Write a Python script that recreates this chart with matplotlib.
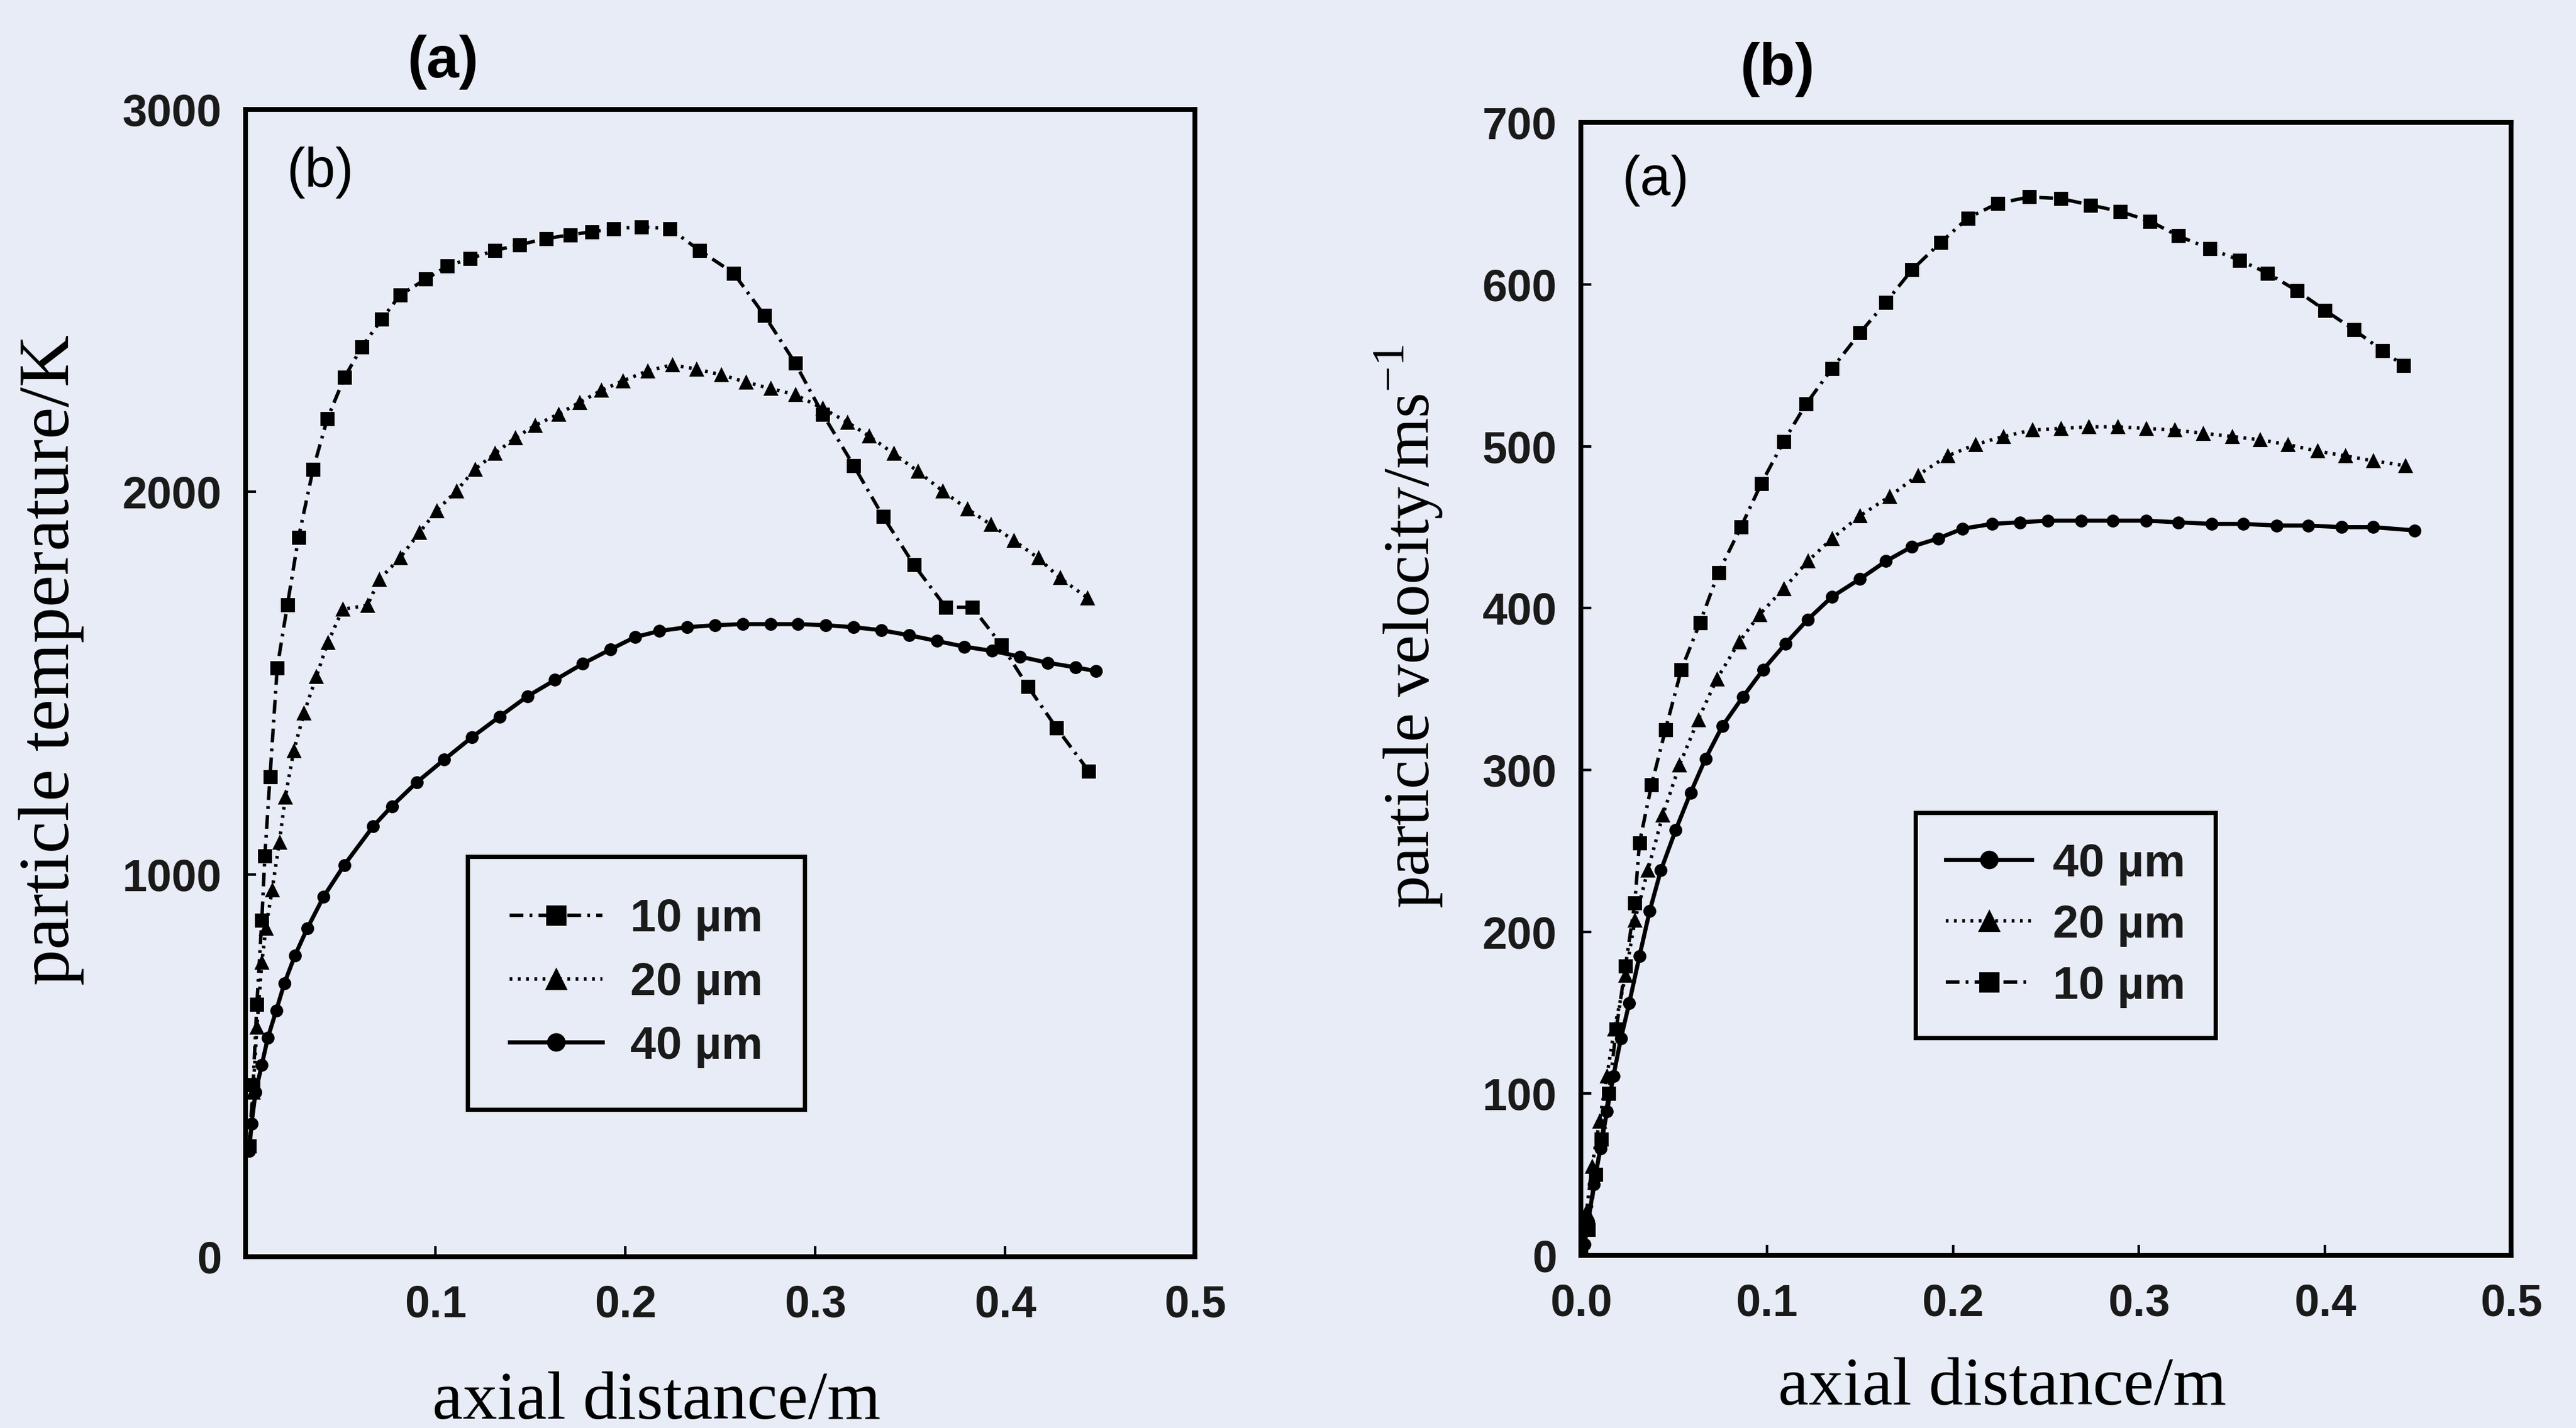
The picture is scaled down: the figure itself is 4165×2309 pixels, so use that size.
import matplotlib
matplotlib.use('Agg')
import matplotlib.pyplot as plt

BG = '#e8ecf6'
SANS = 'Liberation Sans'
SERIF = 'Liberation Serif'

# ---- panel (a): particle temperature vs axial distance ----
temp_10_x = [0.002, 0.004, 0.006, 0.0086, 0.0102, 0.0129, 0.0167, 0.0221, 0.0279, 0.0356,
             0.0431, 0.0521, 0.0612, 0.0717, 0.0813, 0.0949, 0.1063, 0.1183, 0.1313, 0.1442,
             0.1582, 0.171, 0.1824, 0.1938, 0.2084, 0.2236, 0.2391, 0.257, 0.2733, 0.2894,
             0.304, 0.3202, 0.3358, 0.352, 0.3688, 0.3827, 0.398, 0.412, 0.427, 0.444]
temp_10_y = [290, 450, 660, 880, 1048, 1255, 1540, 1705, 1880, 2059,
             2191, 2299, 2378, 2451, 2514, 2556, 2590, 2610, 2631, 2646,
             2662, 2672, 2680, 2688, 2693, 2688, 2631, 2572, 2461, 2337,
             2203, 2069, 1935, 1809, 1698, 1698, 1600, 1491, 1383, 1270]

temp_20_x = [0.002, 0.004, 0.006, 0.0086, 0.0107, 0.014, 0.0178, 0.021, 0.0254, 0.0308,
             0.0373, 0.0433, 0.0512, 0.0642, 0.0703, 0.0813, 0.0917, 0.1007, 0.111, 0.1208,
             0.1313, 0.142, 0.1526, 0.1647, 0.176, 0.1873, 0.1987, 0.2116, 0.2246, 0.2375,
             0.2505, 0.2635, 0.2765, 0.2894, 0.304, 0.317, 0.3283, 0.3413, 0.3542, 0.3671,
             0.3802, 0.3925, 0.4045, 0.4174, 0.4288, 0.4433]
temp_20_y = [290, 430, 600, 769, 858, 959, 1083, 1202, 1323, 1421,
             1517, 1605, 1693, 1703, 1770, 1827, 1894, 1951, 2002, 2059,
             2100, 2141, 2174, 2203, 2234, 2265, 2290, 2316, 2332, 2321,
             2306, 2287, 2270, 2254, 2218, 2182, 2146, 2100, 2053, 2002,
             1955, 1914, 1873, 1827, 1775, 1723]

temp_40_x = [0.002, 0.0032, 0.0053, 0.0086, 0.0118, 0.0162, 0.0205, 0.026, 0.0325, 0.0411,
             0.052, 0.0672, 0.0771, 0.0901, 0.1047, 0.1192, 0.1338, 0.1484, 0.163, 0.1775,
             0.1922, 0.2051, 0.218, 0.2326, 0.2472, 0.2618, 0.2764, 0.291, 0.3056, 0.3202,
             0.3348, 0.3494, 0.364, 0.3786, 0.3932, 0.4078, 0.4224, 0.437, 0.448]
temp_40_y = [277, 348, 430, 502, 573, 644, 715, 787, 858, 941,
             1024, 1125, 1178, 1240, 1300, 1358, 1412, 1465, 1508, 1550,
             1588, 1620, 1636, 1646, 1651, 1654, 1654, 1654, 1651, 1646,
             1638, 1625, 1610, 1595, 1584, 1569, 1553, 1541, 1531]

# ---- panel (b): particle velocity vs axial distance ----
vel_10_x = [0.0, 0.004, 0.008, 0.011, 0.015, 0.019, 0.024, 0.029, 0.0315, 0.038,
            0.0455, 0.054, 0.064, 0.074, 0.086, 0.097, 0.109, 0.121, 0.135, 0.15,
            0.164, 0.178, 0.1935, 0.208, 0.224, 0.241, 0.258, 0.274, 0.29, 0.306,
            0.321, 0.338, 0.354, 0.369, 0.385, 0.40, 0.4155, 0.431, 0.442]
vel_10_y = [0, 16, 50, 72, 100, 140, 179, 218, 255, 291,
            325, 362, 391, 422, 450, 477, 503, 526, 548, 570,
            589, 609, 626, 641, 650, 654, 653, 649, 645, 639,
            630, 622, 615, 607, 596, 584, 572, 559, 550]

vel_20_x = [0.0, 0.003, 0.006, 0.01, 0.014, 0.018, 0.024, 0.029, 0.036, 0.044,
            0.053, 0.063, 0.073, 0.085, 0.096, 0.109, 0.122, 0.135, 0.15, 0.166,
            0.181, 0.197, 0.212, 0.227, 0.2426, 0.258, 0.273, 0.2885, 0.304, 0.319,
            0.3345, 0.35, 0.365, 0.38, 0.396, 0.411, 0.426, 0.443]
vel_20_y = [0, 27, 55, 83, 111, 140, 173, 207, 238, 272,
            303, 331, 356, 379, 396, 412, 429, 443, 457, 469,
            482, 494, 501, 506, 510, 511, 512, 512, 511, 510,
            508, 506, 504, 501, 497, 494, 491, 488]

vel_40_x = [0.0, 0.002, 0.004, 0.007, 0.0105, 0.014, 0.0175, 0.0215, 0.026, 0.0315,
            0.037, 0.043, 0.051, 0.059, 0.067, 0.076, 0.087, 0.098, 0.11, 0.122,
            0.135, 0.15, 0.164, 0.178, 0.192, 0.205, 0.221, 0.236, 0.251, 0.269,
            0.286, 0.304, 0.321, 0.339, 0.356, 0.374, 0.391, 0.409, 0.426, 0.448]
vel_40_y = [0, 7, 21, 44, 66, 89, 111, 134, 156, 185,
            213, 238, 263, 286, 307, 327, 345, 362, 378, 393,
            407, 418, 429, 438, 443, 449, 452, 453, 454, 454,
            454, 454, 453, 452, 452, 451, 451, 450, 450, 448]

size_labels = ['10 \u00b5m', '20 \u00b5m', '40 \u00b5m']

style_10 = dict(color='black', ls=(0, (4, 1.8, 0.8, 1.8)), lw=2.0, marker='s', ms=7)
style_20 = dict(color='black', ls=(0, (0.8, 1.6)), lw=2.0, marker='^', ms=7.5)
style_40 = dict(color='black', ls='-', lw=2.4, marker='o', ms=6.5)

fig = plt.figure(figsize=(4165 / 200, 2309 / 200), dpi=200, facecolor=BG)
ax1 = fig.add_axes([0.0953, 0.120, 0.3686, 0.8034], facecolor=BG)
ax2 = fig.add_axes([0.6137, 0.1208, 0.3611, 0.7934], facecolor=BG)

l10, = ax1.plot(temp_10_x, temp_10_y, label=size_labels[0], **style_10)
l20, = ax1.plot(temp_20_x, temp_20_y, label=size_labels[1], **style_20)
l40, = ax1.plot(temp_40_x, temp_40_y, label=size_labels[2], **style_40)

r40, = ax2.plot(vel_40_x, vel_40_y, label=size_labels[2], **style_40)
r20, = ax2.plot(vel_20_x, vel_20_y, label=size_labels[1], **style_20)
r10, = ax2.plot(vel_10_x, vel_10_y, label=size_labels[0], **style_10)

ax1.set_xlim(0, 0.5)
ax1.set_ylim(0, 3000)
ax1.set_xticks([0.1, 0.2, 0.3, 0.4, 0.5])
ax1.set_xticklabels(['0.1', '0.2', '0.3', '0.4', '0.5'])
ax1.set_yticks([0, 1000, 2000, 3000])

ax2.set_xlim(0, 0.5)
ax2.set_ylim(0, 700)
ax2.set_xticks([0.0, 0.1, 0.2, 0.3, 0.4, 0.5])
ax2.set_xticklabels(['0.0', '0.1', '0.2', '0.3', '0.4', '0.5'])
ax2.set_yticks(range(0, 701, 100))

for ax in (ax1, ax2):
    for sp in ax.spines.values():
        sp.set_linewidth(2.8)
    ax.tick_params(direction='in', length=6, width=1.5, labelsize=26)
    ax.tick_params(axis='x', pad=16)
    ax.tick_params(axis='y', pad=14)
    for lab in ax.get_xticklabels() + ax.get_yticklabels():
        lab.set_fontfamily(SANS)
        lab.set_fontweight('bold')
        lab.set_color('#1a1a1a')

ax1.set_xlabel('axial distance/m', fontsize=40, family=SERIF)
ax1.xaxis.set_label_coords(0.433, -0.100)
ax1.set_ylabel('particle temperature/K', fontsize=42, family=SERIF)
ax1.yaxis.set_label_coords(-0.17, 0.52)

ax2.set_xlabel('axial distance/m', fontsize=40, family=SERIF)
ax2.xaxis.set_label_coords(0.453, -0.0895)
ax2.set_ylabel('particle velocity/ms$^{\\mathregular{-1}}$', fontsize=38, family=SERIF)
ax2.yaxis.set_label_coords(-0.146, 0.555)

# panel letters
ax1.text(0.208, 1.041, '(a)', transform=ax1.transAxes, ha='center', va='center',
         fontsize=34, fontweight='bold', family=SANS)
ax1.text(0.079, 0.945, '(b)', transform=ax1.transAxes, ha='center', va='center',
         fontsize=32, family=SANS)
ax2.text(0.211, 1.047, '(b)', transform=ax2.transAxes, ha='center', va='center',
         fontsize=34, fontweight='bold', family=SANS)
ax2.text(0.080, 0.949, '(a)', transform=ax2.transAxes, ha='center', va='center',
         fontsize=32, family=SANS)

leg_kw = dict(loc='upper left', borderaxespad=0, frameon=True, fancybox=False,
              edgecolor='black', facecolor=BG, framealpha=1,
              prop={'family': SANS, 'size': 27, 'weight': 'bold'},
              numpoints=1, markerscale=1.5)

leg1 = ax1.legend(handles=[l10, l20, l40], bbox_to_anchor=(0.234, 0.349),
                  handlelength=2.0, handletextpad=0.6, borderpad=0.9, labelspacing=0.45,
                  **leg_kw)
leg1.get_frame().set_linewidth(2.5)

leg2 = ax2.legend(handles=[r40, r20, r10], bbox_to_anchor=(0.360, 0.391),
                  handlelength=1.85, handletextpad=0.45, borderpad=0.65, labelspacing=0.4,
                  **leg_kw)
leg2.get_frame().set_linewidth(2.5)

for leg in (leg1, leg2):
    for t in leg.get_texts():
        t.set_color('#1a1a1a')

fig.savefig('out.png', dpi=200, facecolor=BG)
